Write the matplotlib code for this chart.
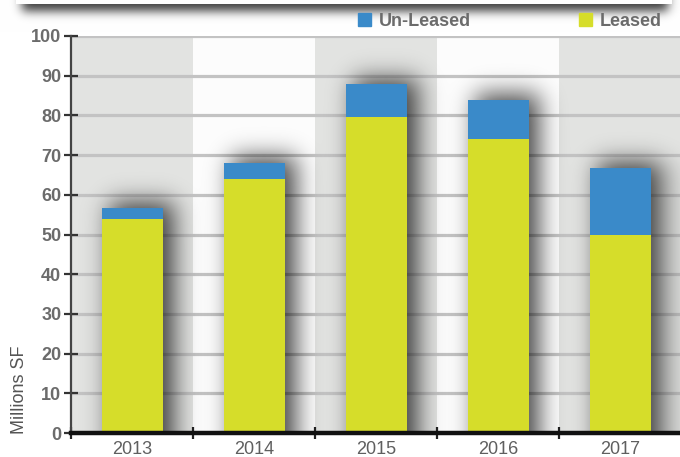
import numpy as np
import matplotlib.pyplot as plt
from matplotlib.patches import Patch

plt.rcParams['font.family'] = ['Liberation Sans', 'DejaVu Sans']

years = ["2013", "2014", "2015", "2016", "2017"]
leased = [54.0, 64.0, 79.5, 74.0, 50.0]
unleased = [2.6, 4.0, 8.3, 10.0, 16.7]

blue = "#3a8ac9"
yellow = "#d6dd2a"
txt = "#6b6b6b"


def gauss_matrix(n, sigma):
    i = np.arange(n)
    k = np.exp(-0.5 * ((i[:, None] - i[None, :]) / sigma) ** 2)
    return k / k.sum(axis=1, keepdims=True)


fig = plt.figure(figsize=(6.8, 4.57), dpi=100)
ax = fig.add_axes([71 / 680, 24 / 457, 609 / 680, 397 / 457])

x = np.arange(len(years))
x0, x1 = -0.5, 4.49
ax.set_xlim(x0, x1)
ax.set_ylim(0, 100)

# alternating column bands
for i in x:
    ax.axvspan(i - 0.5, i + 0.5, color="#e2e3e1" if i % 2 == 0 else "#fcfcfc",
               zorder=0.1, lw=0)

# drop shadows of the bars, blurred with numpy
W, H = 609, 397
xs = np.linspace(x0, x1, W)
ys = np.linspace(0, 100, H)
mask = np.zeros((H, W))
tot = np.array(leased) + np.array(unleased)
for i, t in zip(x, tot):
    inx = (xs >= i - 0.25 + 0.07) & (xs <= i + 0.25 + 0.09)
    iny = ys <= t + 1.5
    mask[np.ix_(iny, inx)] = 1.0
blur = gauss_matrix(H, 12) @ mask @ gauss_matrix(W, 12).T
shadow = np.zeros((H, W, 4))
shadow[..., 3] = 0.72 * blur
ax.imshow(shadow, origin="lower", extent=(x0, x1, 0, 100), aspect="auto",
          zorder=1, interpolation="bilinear")

b1 = ax.bar(x, leased, width=0.5, color=yellow, zorder=3, label="Leased")
b2 = ax.bar(x, unleased, bottom=leased, width=0.5, color=blue, zorder=3,
            label="Un-Leased")

ax.set_yticks(np.arange(0, 101, 10))
ax.yaxis.grid(True, color="#c3c3c3", lw=2.3)
ax.set_axisbelow(True)
ax.tick_params(axis="y", direction="inout", length=10, width=1.6,
               color="#333333", pad=2, labelsize=13, labelcolor=txt)
for lab in ax.get_yticklabels():
    lab.set_fontweight("bold")

ax.set_xticks([-0.5, 0.5, 1.5, 2.5, 3.5])
ax.set_xticklabels([])
ax.tick_params(axis="x", which="major", direction="inout", length=9,
               width=1.6, color="#222222")
ax.set_xticks(x, minor=True)
ax.set_xticklabels(years, minor=True)
ax.tick_params(axis="x", which="minor", length=0, pad=6, labelsize=13,
               labelcolor="#5f5f5f")

for s in ["top", "right"]:
    ax.spines[s].set_visible(False)
ax.spines["left"].set_color("#444444")
ax.spines["left"].set_linewidth(1.6)
ax.spines["bottom"].set_color("#111111")
ax.spines["bottom"].set_linewidth(3.2)
ax.spines["bottom"].set_zorder(4)

fig.text(20 / 680, 1 - 390 / 457, "Millions SF", rotation=90, ha="center",
         va="center", fontsize=13, color="#555555")

# top panel with its shadow
axp = fig.add_axes([0, 1 - 32 / 457, 1, 32 / 457])
axp.set_zorder(-1)
axp.axis("off")
pm = np.zeros((32, 680))
pm[0:11, 22:668] = 1.0
pb = gauss_matrix(32, 5) @ pm @ gauss_matrix(680, 5).T
img = np.ones((32, 680, 3)) * (1 - 0.78 * pb)[..., None]
img[0:4, 16:672] = 1.0
axp.imshow(img, aspect="auto", extent=(0, 680, 32, 0))

handles = [Patch(color=blue, label="Un-Leased"), Patch(color=yellow, label="Leased")]
ax.legend(handles=handles, ncol=2, loc="center left", frameon=False,
          bbox_to_anchor=(358 / 680, 1 - 21 / 457), bbox_transform=fig.transFigure,
          borderpad=0, borderaxespad=0, handlelength=0.72, handleheight=0.72,
          handletextpad=0.45, columnspacing=5.95,
          prop={"weight": "bold", "size": 13}, labelcolor=txt)

fig.savefig("out.png", dpi=100)
